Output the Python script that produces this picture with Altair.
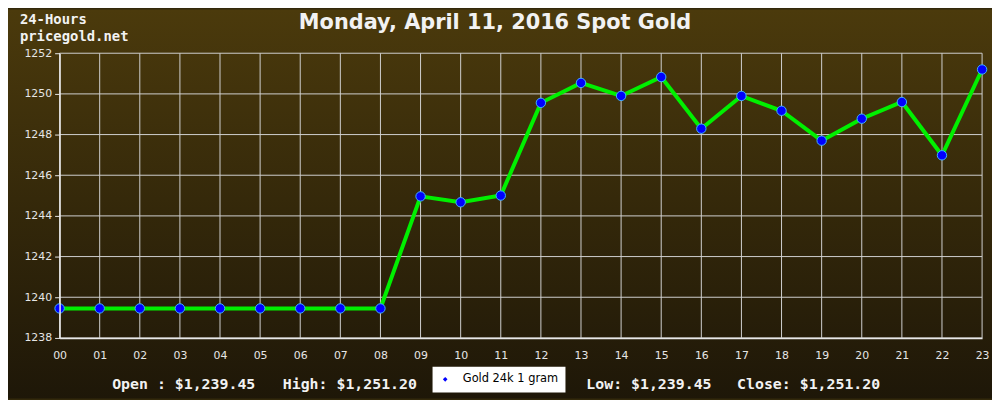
import altair as alt
import pandas as pd

# ---- data ----
hour_labels = ["00", "01", "02", "03", "04", "05", "06", "07", "08", "09", "10", "11",
               "12", "13", "14", "15", "16", "17", "18", "19", "20", "21", "22", "23"]
prices = [1239.45, 1239.45, 1239.45, 1239.45, 1239.45, 1239.45, 1239.45, 1239.45, 1239.45,
          1244.96, 1244.67, 1245.0, 1249.56, 1250.54, 1249.9, 1250.83, 1248.29, 1249.9,
          1249.17, 1247.7, 1248.78, 1249.6, 1246.98, 1251.2]
y_ticks = [1238, 1240, 1242, 1244, 1246, 1248, 1250, 1252]
y_all_ticks = [1238, 1239, 1240, 1241, 1242, 1243, 1244, 1245, 1246, 1247, 1248, 1249,
               1250, 1251, 1252]
series_name = "Gold 24k 1 gram"
title_text = "Monday, April 11, 2016 Spot Gold"
corner_lines = ["24-Hours", "pricegold.net"]
stats_texts = ["Open : $1,239.45", "High: $1,251.20", "Low: $1,239.45", "Close: $1,251.20"]

W, H = 930, 287
PL, PT, PR, PB = 52, 44, 10, 61

df = pd.DataFrame({"hour": hour_labels, "price": prices, "series": [series_name] * len(prices)})
vgrid = pd.DataFrame({"hour": hour_labels})
hgrid = pd.DataFrame({"price": y_ticks})

x_scale = alt.Scale(type="point", padding=0, domain=hour_labels)
y_scale = alt.Scale(domain=[1238, 1252], nice=False, zero=False)

MONO = "DejaVu Sans Mono"

bg = alt.Chart(pd.DataFrame({"a": [0]})).mark_rect(
    color=alt.Gradient(
        gradient="linear",
        stops=[alt.GradientStop(color="#4b3a0c", offset=0),
               alt.GradientStop(color="#1e1708", offset=1)],
        x1=0, x2=0, y1=0, y2=1,
    )
).encode(
    x=alt.value(-PL), x2=alt.value(W + PR), y=alt.value(-PT), y2=alt.value(H + PB)
)

vrules = alt.Chart(vgrid).mark_rule(color="#d0d0d0", strokeWidth=1).encode(
    x=alt.X("hour:O", scale=x_scale)
)
hrules = alt.Chart(hgrid).mark_rule(color="#d0d0d0", strokeWidth=1).encode(
    y=alt.Y("price:Q", scale=y_scale)
)

x_axis = alt.Axis(
    title=None, labelAngle=0, labelAlign="center", ticks=False, grid=False,
    domainColor="#e8e8e8", domainWidth=1.5,
    labelColor="#e6e6e6", labelFont="DejaVu Sans", labelFontSize=11, labelPadding=18,
    labelFlush=False, zindex=1,
)
y_axis = alt.Axis(
    title=None, values=y_all_ticks, grid=False, domainColor="#e8e8e8", domainWidth=1.5,
    labelExpr="datum.value % 2 == 0 ? datum.value : ''", labelOverlap=False,
    tickSize=alt.ExprRef("datum.value % 2 == 0 ? 5 : 3"), tickColor="#e8e8e8",
    labelColor="#e6e6e6", labelFont="DejaVu Sans", labelFontSize=11, labelPadding=3,
    zindex=1,
)

line = alt.Chart(df).mark_line(color="#00f000", strokeWidth=4).encode(
    x=alt.X("hour:O", scale=x_scale, axis=x_axis),
    y=alt.Y("price:Q", scale=y_scale, axis=y_axis),
)

points = alt.Chart(df).mark_point(filled=True, size=90, stroke="#40b0ff", strokeWidth=1,
                                  opacity=1, fillOpacity=1).encode(
    x=alt.X("hour:O", scale=x_scale),
    y=alt.Y("price:Q", scale=y_scale),
    color=alt.Color("series:N", scale=alt.Scale(range=["#0000ff"]),
                    legend=alt.Legend(
                        orient="none", legendX=376, legendY=316, title=None,
                        fillColor="white", padding=7, symbolType="diamond", symbolSize=22,
                        symbolStrokeWidth=0, labelFont="DejaVu Sans", labelFontSize=11.5,
                        labelColor="black", labelOffset=12,
                    )),
)

title = alt.Chart(pd.DataFrame({"t": [title_text]})).mark_text(
    font="DejaVu Sans", fontSize=21, fontWeight="bold", color="#f2f2f2",
    align="center", baseline="alphabetic"
).encode(text="t:N", x=alt.value(439), y=alt.value(-24))

corner1 = alt.Chart(pd.DataFrame({"t": [corner_lines[0]]})).mark_text(
    font=MONO, fontSize=14, fontWeight="bold", color="#f2f2f2", align="left",
    baseline="alphabetic"
).encode(text="t:N", x=alt.value(-40), y=alt.value(-29))

corner2 = alt.Chart(pd.DataFrame({"t": [corner_lines[1]]})).mark_text(
    font=MONO, fontSize=14, fontWeight="bold", color="#f2f2f2", align="left",
    baseline="alphabetic"
).encode(text="t:N", x=alt.value(-40), y=alt.value(-12))

stat_x = [53, 225, 531, 683]
stat_layers = []
for txt, sx in zip(stats_texts, stat_x):
    stat_layers.append(
        alt.Chart(pd.DataFrame({"t": [txt]})).mark_text(
            font=MONO, fontSize=15, fontWeight="bold", color="#f2f2f2", align="left",
            baseline="alphabetic"
        ).encode(text="t:N", x=alt.value(sx), y=alt.value(338))
    )

chart = alt.layer(bg, vrules, hrules, line, points, title, corner1, corner2, *stat_layers).properties(
    width=W, height=H,
    padding={"left": PL, "top": PT, "right": PR, "bottom": PB},
    autosize=alt.AutoSizeParams(type="none"),
    background="#33290b",
).configure_view(stroke=None)

chart.save("out.html", embed_options={"renderer": "svg", "actions": False})
